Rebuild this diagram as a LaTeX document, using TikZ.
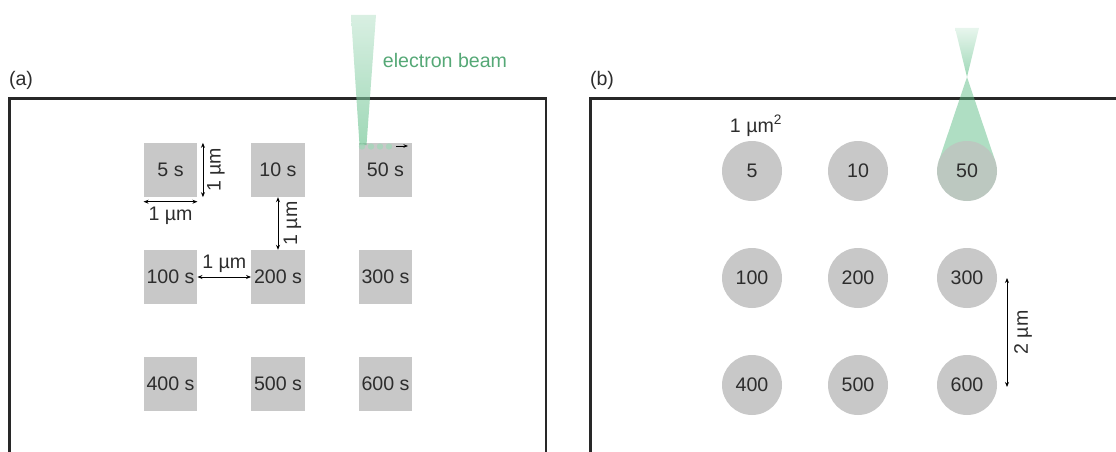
\documentclass[tikz,border=0pt]{standalone}
\usepackage{fontspec}
\setmainfont{Liberation Sans}
\usetikzlibrary{arrows.meta}
\definecolor{sqgray}{RGB}{200,200,200}
\definecolor{tintgray}{RGB}{188,200,192}
\definecolor{txtgray}{RGB}{45,45,45}
\definecolor{framecol}{RGB}{40,40,40}
\definecolor{beamgreen}{RGB}{95,190,135}
\definecolor{beamtxt}{RGB}{85,168,118}
\begin{document}
\begin{tikzpicture}[x=1pt,y=-1pt,
  lbl/.style={font=\fontsize{19.6}{23}\selectfont, text=txtgray, inner sep=0pt},
  sqbox/.style={lbl, fill=sqgray, minimum width=53.5pt, minimum height=54pt},
  dotcirc/.style={lbl, circle, fill=sqgray, minimum size=60pt},
  frame/.style={draw=framecol, line width=2.2pt},
  dim/.style={draw=black, line width=0.9pt, {Stealth[length=5pt,width=4pt]}-{Stealth[length=5pt,width=4pt]}}
]
\useasboundingbox (0,0) rectangle (1116,452);
% frames
\draw[frame] (9.5,460) -- (9.5,98.5) -- (546,98.5) -- (546,460);
\draw[frame] (590.5,460) -- (590.5,98.5) -- (1125,98.5);
\node[lbl] (la) at (21,80) {(a)};
\node[lbl] (lb) at (602,80) {(b)};

% panel (a) squares
\node[sqbox] (s5)   at (170.5,170) {5 s};
\node[sqbox] (s10)  at (278,170) {10 s};
\node[sqbox] (s50)  at (385.5,170) {50 s};
\node[sqbox] (s100) at (170.5,277) {100 s};
\node[sqbox] (s200) at (278,277) {200 s};
\node[sqbox] (s300) at (385.5,277) {300 s};
\node[sqbox] (s400) at (170.5,384) {400 s};
\node[sqbox] (s500) at (278,384) {500 s};
\node[sqbox] (s600) at (385.5,384) {600 s};

% dimension arrows (a)
\coordinate (v1a) at ([xshift=5.5pt]s5.north east);
\coordinate (v1b) at ([xshift=5.5pt]s5.south east);
\draw[dim] (v1a) -- (v1b) node[midway, lbl, rotate=90, yshift=-13pt] (l1) {1 µm};
\coordinate (h1a) at ([yshift=-4.5pt]s5.south west);
\coordinate (h1b) at ([yshift=-4.5pt]s5.south east);
\draw[dim] (h1a) -- (h1b) node[midway, lbl, yshift=-14.5pt] (l2) {1 µm};
\draw[dim] (s10.south) -- (s200.north) node[midway, lbl, rotate=90, yshift=-14.5pt] (l3) {1 µm};
\draw[dim] (s100.east) -- (s200.west) node[midway, lbl, yshift=13.5pt] (l4) {1 µm};

% electron beam (a)
\shade[top color=beamgreen!40, bottom color=beamgreen, opacity=0.6]
  (351,15) -- (376,15) -- (366.5,145) -- (359.5,145) -- cycle;
\foreach \x/\n in {362/d1,371/d2,380/d3,389/d4}
  \fill[beamgreen!60, opacity=0.7] (\x,146.5) circle (3.2pt);
\coordinate (sa) at (396,146);
\coordinate (sb) at (408,146);
\draw[line width=0.8pt, -{Stealth[length=4.5pt,width=3.5pt]}] (sa) -- (sb);
\node[lbl, text=beamtxt] (eb) at (445,60) {electron beam};

% electron beam (b)
\shade[top color=beamgreen!25, bottom color=beamgreen, opacity=0.6]
  (955,28) -- (979,28) -- (967,77) -- cycle;
\fill[beamgreen, fill opacity=0.5] (967,77) -- (995.4,161.4) -- (967,171) -- (938.6,161.4) -- cycle;

% panel (b) circles
\node[dotcirc] (c5)   at (752,171) {5};
\node[dotcirc] (c10)  at (858,171) {10};
\node[dotcirc, fill=tintgray] (c50) at (967,171) {50};
\node[dotcirc] (c100) at (752,278) {100};
\node[dotcirc] (c200) at (858,278) {200};
\node[dotcirc] (c300) at (967,278) {300};
\node[dotcirc] (c400) at (752,385) {400};
\node[dotcirc] (c500) at (858,385) {500};
\node[dotcirc] (c600) at (967,385) {600};
\node[lbl] (area) at (756,126) {1 µm$^{\mathrm{2}}$};

% 2 um arrow
\coordinate (v2a) at (1007,278);
\coordinate (v2b) at (1007,387);
\draw[dim] (v2a) -- (v2b) node[midway, lbl, rotate=90, yshift=-16pt] (l5) {2 µm};
\end{tikzpicture}
\end{document}
